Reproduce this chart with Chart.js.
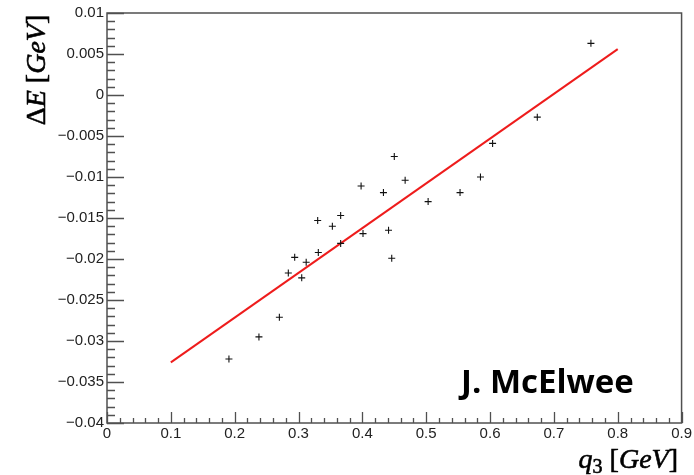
<!DOCTYPE html>
<html>
<head>
<meta charset="utf-8">
<script src="https://cdn.jsdelivr.net/npm/chart.js@4/dist/chart.umd.min.js"></script>
<style>
    html, body { margin: 0; padding: 0; background: #fff; }
    #wrap { width: 694px; height: 475px; }
</style>
</head>
<body>
<div id="wrap"><canvas id="graphEnergie"></canvas></div>
<script>
// mesures : q3 (GeV) et decalage en energie (GeV)
var q3Val = [0.191, 0.238, 0.270, 0.284, 0.294, 0.305, 0.312, 0.331, 0.330, 0.353, 0.366, 0.366, 0.398,
    0.401, 0.433, 0.441, 0.446, 0.450, 0.467, 0.503, 0.553, 0.585, 0.604, 0.674, 0.758];
var deltaEVal = [-0.0322, -0.0295, -0.0271, -0.0217, -0.0198, -0.0223, -0.0204, -0.0192, -0.0153, -0.0160,
    -0.0147, -0.0181, -0.0111, -0.0169, -0.0119, -0.0165, -0.0199, -0.0075, -0.0104, -0.0130, -0.0119,
    -0.0100, -0.0059, -0.0027, 0.0063];

// droite d'ajustement (extremites)
var fitX = [0.1, 0.8];
var fitY = [-0.0326, 0.0056];

var xTicks = [0, 0.1, 0.2, 0.3, 0.4, 0.5, 0.6, 0.7, 0.8, 0.9];
var yTicks = [-0.04, -0.035, -0.03, -0.025, -0.02, -0.015, -0.01, -0.005, 0, 0.005, 0.01];

var auteur = "J. McElwee";

var points = [];
for (let i = 0; i < q3Val.length; i++) {
    points.push({x: q3Val[i], y: deltaEVal[i]});
}
var ligne = [];
for (let i = 0; i < fitX.length; i++) {
    ligne.push({x: fitX[i], y: fitY[i]});
}

var formatTick = function (v) {
    return String(v).replace('-', '\u2212');
};

var serif = '"Liberation Serif", "DejaVu Serif", serif';

// texte en plusieurs morceaux (italique / droit / indice)
var drawParts = function (ctx, parts, x, y) {
    var cx = x;
    for (let i = 0; i < parts.length; i++) {
        ctx.font = parts[i].f;
        ctx.fillText(parts[i].t, cx, y + (parts[i].dy || 0));
        ctx.strokeText(parts[i].t, cx, y + (parts[i].dy || 0));
        cx += ctx.measureText(parts[i].t).width;
    }
};
var widthParts = function (ctx, parts) {
    var w = 0;
    for (let i = 0; i < parts.length; i++) {
        ctx.font = parts[i].f;
        w += ctx.measureText(parts[i].t).width;
    }
    return w;
};

var cadre = {
    id: 'cadre',
    beforeDatasetsDraw: function (chart) {
        var ctx = chart.ctx;
        var a = chart.chartArea;
        var sx = chart.scales.x;
        var sy = chart.scales.y;
        ctx.save();
        ctx.strokeStyle = '#505050';
        ctx.lineWidth = 1.5;
        ctx.strokeRect(a.left, a.top, a.right - a.left, a.bottom - a.top);

        ctx.lineWidth = 1.3;
        ctx.beginPath();
        for (let i = 0; i < yTicks.length; i++) {
            var nSub = i < yTicks.length - 1 ? 5 : 1;
            for (let k = 0; k < nSub; k++) {
                var v = yTicks[i] + k * (yTicks[1] - yTicks[0]) / 5;
                var py = Math.round(sy.getPixelForValue(v)) + 0.5;
                var len = k === 0 ? 17 : 8;
                ctx.moveTo(a.left, py);
                ctx.lineTo(a.left + len, py);
            }
        }
        for (let i = 0; i < xTicks.length; i++) {
            var nSubX = i < xTicks.length - 1 ? 5 : 1;
            for (let k = 0; k < nSubX; k++) {
                var vx = xTicks[i] + k * (xTicks[1] - xTicks[0]) / 5;
                var px = Math.round(sx.getPixelForValue(vx)) + 0.5;
                var lenX = k === 0 ? 11 : 5;
                ctx.moveTo(px, a.bottom);
                ctx.lineTo(px, a.bottom - lenX);
            }
        }
        ctx.stroke();
        ctx.restore();
    },
    afterDraw: function (chart) {
        var ctx = chart.ctx;
        ctx.save();
        ctx.fillStyle = '#000';
        ctx.strokeStyle = '#000';
        ctx.lineWidth = 0.6;
        ctx.textBaseline = 'alphabetic';

        // titre axe y, tourne
        var titreY = [
            {t: '\u0394', f: '28px ' + serif},
            {t: 'E', f: 'italic 28px ' + serif},
            {t: ' [', f: '28px ' + serif},
            {t: 'GeV', f: 'italic 28px ' + serif},
            {t: ']', f: '28px ' + serif}
        ];
        var wy = widthParts(ctx, titreY);
        ctx.save();
        ctx.translate(45, 70);
        ctx.rotate(-Math.PI / 2);
        drawParts(ctx, titreY, -wy / 2, 0);
        ctx.restore();

        // titre axe x, aligne a droite
        var titreX = [
            {t: 'q', f: 'italic 28px ' + serif},
            {t: '3', f: '20px ' + serif, dy: 5},
            {t: ' [', f: '28px ' + serif},
            {t: 'GeV', f: 'italic 28px ' + serif},
            {t: ']', f: '28px ' + serif}
        ];
        var wx = widthParts(ctx, titreX);
        drawParts(ctx, titreX, 678 - wx, 468);

        ctx.font = 'bold 33px "Open Sans", Lato, sans-serif';
        ctx.fillText(auteur, 461, 393);
        ctx.restore();
    }
};

new Chart(document.getElementById("graphEnergie").getContext('2d'), {
    type: 'scatter',
    data: {
        datasets: [{
            data: points,
            pointStyle: 'cross',
            pointRadius: 3.5,
            pointHoverRadius: 3.5,
            borderColor: '#111',
            borderWidth: 1.1,
            showLine: false
        }, {
            data: ligne,
            showLine: true,
            borderColor: '#ee1c1c',
            borderWidth: 2,
            pointRadius: 0,
            fill: false
        }]
    },
    options: {
        responsive: true,
        maintainAspectRatio: false,
        animation: false,
        events: [],
        layout: {padding: {top: 13, right: 10, left: 0, bottom: 0}},
        plugins: {
            legend: {display: false},
            tooltip: {enabled: false}
        },
        scales: {
            x: {
                type: 'linear',
                min: 0,
                max: 0.9,
                afterBuildTicks: function (scale) {
                    scale.ticks = xTicks.map(function (v) { return {value: v}; });
                },
                afterFit: function (scale) { scale.height = 52; },
                grid: {display: false, drawTicks: false},
                border: {display: false},
                ticks: {
                    padding: 2,
                    maxRotation: 0,
                    autoSkip: false,
                    color: '#222',
                    font: {family: '"Liberation Sans", Arial, sans-serif', size: 15},
                    callback: formatTick
                }
            },
            y: {
                type: 'linear',
                min: -0.04,
                max: 0.01,
                afterBuildTicks: function (scale) {
                    scale.ticks = yTicks.map(function (v) { return {value: v}; });
                },
                afterFit: function (scale) { scale.width = 107; },
                grid: {display: false, drawTicks: false},
                border: {display: false},
                ticks: {
                    padding: 3,
                    autoSkip: false,
                    color: '#222',
                    font: {family: '"Liberation Sans", Arial, sans-serif', size: 15},
                    callback: formatTick
                }
            }
        }
    },
    plugins: [cadre]
});
</script>
</body>
</html>
